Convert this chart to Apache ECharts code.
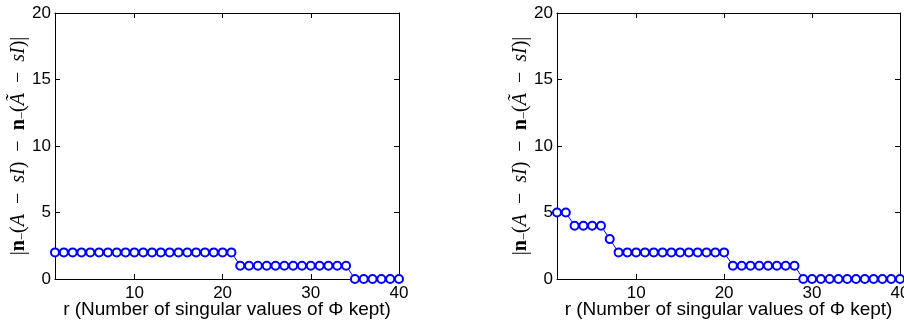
<!DOCTYPE html>
<html><head><meta charset="utf-8">
<script src="https://cdn.jsdelivr.net/npm/echarts@6/dist/echarts.min.js"></script>
<style>html,body{margin:0;padding:0;background:#fff}#c{width:904px;height:325px}</style>
</head><body><div id="c"></div>
<script>
const rValues = [1,2,3,4,5,6,7,8,9,10,11,12,13,14,15,16,17,18,19,20,21,22,23,24,25,26,27,28,29,30,31,32,33,34,35,36,37,38,39,40];
const leftValues = [2,2,2,2,2,2,2,2,2,2,2,2,2,2,2,2,2,2,2,2,2,1,1,1,1,1,1,1,1,1,1,1,1,1,0,0,0,0,0,0];
const rightValues = [5,5,4,4,4,4,3,2,2,2,2,2,2,2,2,2,2,2,2,2,1,1,1,1,1,1,1,1,0,0,0,0,0,0,0,0,0,0,0,0];
const xTicks = [10,20,30,40];
const yTicks = [0,5,10,15,20];
const xTitle = 'r (Number of singular values of \u03A6 kept)';

const sansFont = '"Liberation Sans", Arial, sans-serif';
const serif = '"Liberation Serif", "DejaVu Serif", serif';
const M = '\u2002\u2212\u2002';
const yName = '{u||}{b|n}{s|\u2212}{u|(}{i|A}{u|' + M + '}{i|sI}{u|)' + M + '}{b|n}{s|\u2212}{u|(}{i|\u00C3}{u|' + M + '}{i|sI}{u|)|}';
const richY = {
  u: {fontFamily: serif, fontSize: 20, color: '#000'},
  i: {fontFamily: serif, fontSize: 20, fontStyle: 'italic', color: '#000'},
  b: {fontFamily: serif, fontSize: 20, fontWeight: 'bold', color: '#000'},
  s: {fontFamily: serif, fontSize: 13, color: '#000', verticalAlign: 'bottom'}
};

const grids = [
  {left: 55, right: 505, top: 13, bottom: 46, outerBoundsMode: 'none', containLabel: false},
  {left: 557, right: 4, top: 13, bottom: 46, outerBoundsMode: 'none', containLabel: false}
];
const axisLine = {show: true, onZero: false, lineStyle: {color: '#000', width: 1}};
const tickStyle = {show: true, inside: true, length: 5, lineStyle: {color: '#000', width: 1}};

const xAxis = [], yAxis = [], series = [];
[leftValues, rightValues].forEach((vals, g) => {
  xAxis.push({
    type: 'value', gridIndex: g, min: 1, max: 40, position: 'bottom',
    axisLine: axisLine,
    axisTick: Object.assign({customValues: xTicks}, tickStyle),
    axisLabel: {customValues: xTicks, color: '#000', fontFamily: sansFont, fontSize: 17, margin: 6, hideOverlap: false},
    splitLine: {show: false},
    name: xTitle, nameLocation: 'middle', nameGap: 21, nameMoveOverlap: false,
    nameTextStyle: {color: '#000', fontFamily: sansFont, fontSize: 19}
  });
  xAxis.push({
    type: 'value', gridIndex: g, min: 1, max: 40, position: 'top',
    axisLine: axisLine,
    axisTick: Object.assign({customValues: xTicks}, tickStyle),
    axisLabel: {show: false}, splitLine: {show: false}
  });
  yAxis.push({
    type: 'value', gridIndex: g, min: 0, max: 20, interval: 5, position: 'left',
    axisLine: axisLine, axisTick: tickStyle,
    axisLabel: {color: '#000', fontFamily: sansFont, fontSize: 17, margin: 4},
    splitLine: {show: false},
    name: yName, nameLocation: 'middle', nameGap: 26, nameRotate: 90, nameMoveOverlap: false,
    nameTextStyle: {rich: richY}
  });
  yAxis.push({
    type: 'value', gridIndex: g, min: 0, max: 20, interval: 5, position: 'right',
    axisLine: axisLine, axisTick: tickStyle,
    axisLabel: {show: false}, splitLine: {show: false}
  });
  series.push({
    type: 'line', xAxisIndex: g * 2, yAxisIndex: g * 2,
    data: rValues.map((r, i) => [r, vals[i]]),
    symbol: 'emptyCircle', symbolSize: 8, clip: false,
    lineStyle: {color: '#0000ff', width: 1},
    itemStyle: {color: '#0000ff', borderColor: '#0000ff', borderWidth: 1},
    animation: false
  });
});

const chart = echarts.init(document.getElementById('c'));
chart.setOption({animation: false, grid: grids, xAxis: xAxis, yAxis: yAxis, series: series});
</script></body></html>
